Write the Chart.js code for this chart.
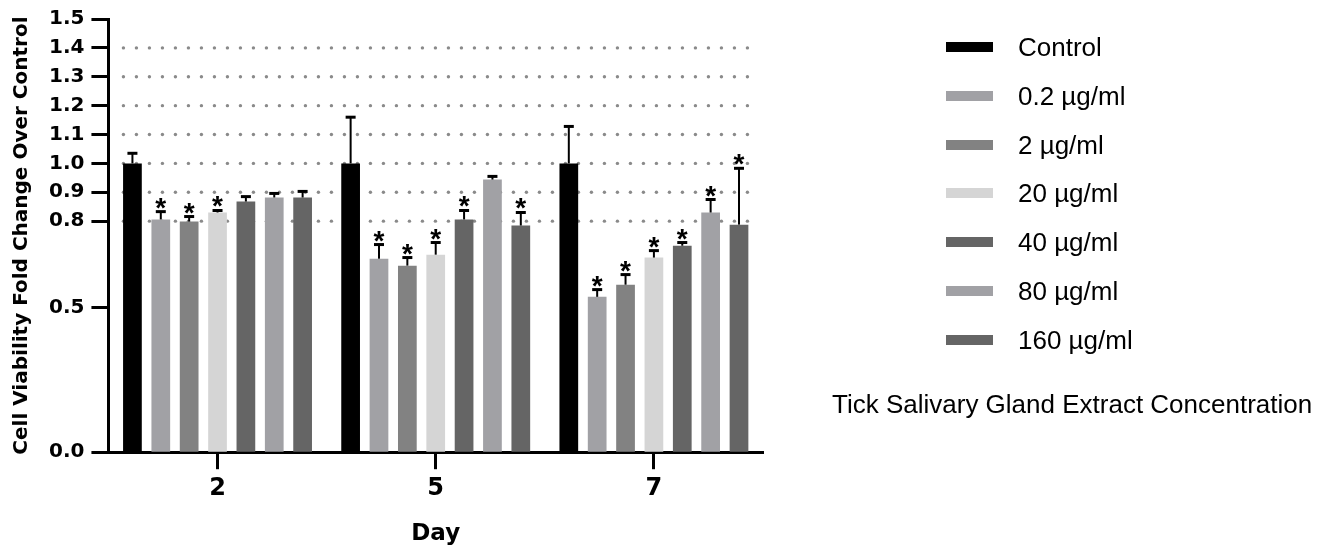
<!DOCTYPE html>
<html>
<head>
<meta charset="utf-8">
<script src="https://cdn.jsdelivr.net/npm/chart.js@4.4.0/dist/chart.umd.min.js"></script>
<style>
  body { margin: 0; background: #fff; }
  #wrap { position: relative; width: 1344px; height: 548px; }
  #legend { position: absolute; left: 0; top: 0; font-family: "Liberation Sans", Arial, sans-serif; font-size: 26px; color: #000; }
  .sw { position: absolute; left: 946px; width: 47px; height: 10px; }
  .lb { position: absolute; left: 1018px; line-height: 30px; white-space: nowrap; }
</style>
</head>
<body>
<div id="wrap">
  <canvas id="chart" width="1344" height="548"></canvas>
  <div id="legend"></div>
</div>
<script>
// days on the x axis
const days = ['2', '5', '7'];
const groups = ['Control', '0.2 µg/ml', '2 µg/ml', '20 µg/ml', '40 µg/ml', '80 µg/ml', '160 µg/ml'];
const colors = ['#000000', '#a1a1a5', '#828282', '#d5d5d5', '#656565', '#a1a1a5', '#656565'];

// mean fold change, one value per day
const control = [1.00, 1.00, 1.00];
const c02 = [0.806, 0.670, 0.538];
const c2 = [0.799, 0.646, 0.580];
const c20 = [0.830, 0.684, 0.674];
const c40 = [0.868, 0.806, 0.715];
const c80 = [0.882, 0.944, 0.830];
const c160 = [0.882, 0.785, 0.788];

// upper error (SD)
const errControl = [0.035, 0.160, 0.128];
const err02 = [0.027, 0.049, 0.025];
const err2 = [0.017, 0.028, 0.035];
const err20 = [0.007, 0.042, 0.024];
const err40 = [0.017, 0.031, 0.011];
const err80 = [0.014, 0.011, 0.045];
const err160 = [0.021, 0.045, 0.195];

// significance stars
const starControl = [0, 0, 0];
const star02 = [1, 1, 1];
const star2 = [1, 1, 1];
const star20 = [1, 1, 1];
const star40 = [0, 1, 1];
const star80 = [0, 0, 1];
const star160 = [0, 1, 1];

const yTicks = [0, 0.5, 0.8, 0.9, 1.0, 1.1, 1.2, 1.3, 1.4, 1.5];
const gridValues = [0.8, 0.9, 1.0, 1.1, 1.2, 1.3, 1.4];

const values = [control, c02, c2, c20, c40, c80, c160];
const errors = [errControl, err02, err2, err20, err40, err80, err160];
const stars = [starControl, star02, star2, star20, star40, star80, star160];

const boldFont = (size, lh) => ({ family: 'DejaVu Sans', weight: 'bold', size: size, lineHeight: lh || 1.2 });

const dottedGrid = {
  id: 'dottedGrid',
  beforeDatasetsDraw(chart) {
    const { ctx, chartArea } = chart;
    const y = chart.scales.y;
    ctx.save();
    ctx.fillStyle = '#8a8a8a';
    gridValues.forEach(v => {
      const py = y.getPixelForValue(v);
      for (let px = chartArea.left + 15; px <= chartArea.right - 14; px += 13) {
        ctx.beginPath();
        ctx.arc(px, py, 1.7, 0, Math.PI * 2);
        ctx.fill();
      }
    });
    ctx.restore();
  }
};

const errorBars = {
  id: 'errorBars',
  afterDatasetsDraw(chart) {
    const ctx = chart.ctx;
    const y = chart.scales.y;
    ctx.save();
    ctx.strokeStyle = '#000';
    ctx.fillStyle = '#000';
    ctx.font = 'bold 28px "Liberation Sans"';
    ctx.textAlign = 'center';
    ctx.textBaseline = 'alphabetic';
    chart.data.datasets.forEach((ds, i) => {
      chart.getDatasetMeta(i).data.forEach((bar, j) => {
        const top = y.getPixelForValue(ds.data[j] + ds.errors[j]);
        ctx.lineWidth = 2;
        ctx.beginPath();
        ctx.moveTo(bar.x, bar.y);
        ctx.lineTo(bar.x, top);
        ctx.stroke();
        ctx.lineWidth = 3;
        ctx.beginPath();
        ctx.moveTo(bar.x - 5, top);
        ctx.lineTo(bar.x + 5, top);
        ctx.stroke();
        if (ds.stars[j]) ctx.fillText('*', bar.x, top + 5);
      });
    });
    ctx.restore();
  }
};

Chart.defaults.color = '#000';

new Chart(document.getElementById('chart'), {
  type: 'bar',
  data: {
    labels: days,
    datasets: groups.map((g, i) => ({
      label: g,
      data: values[i],
      errors: errors[i],
      stars: stars[i],
      backgroundColor: colors[i],
      borderWidth: 0,
      categoryPercentage: 0.91,
      barPercentage: 0.66
    }))
  },
  options: {
    responsive: false,
    animation: false,
    layout: { padding: { top: 18, right: 581, left: 0, bottom: 0 } },
    plugins: { legend: { display: false }, tooltip: { enabled: false } },
    scales: {
      x: {
        offset: true,
        grid: { drawOnChartArea: false, offset: false, tickLength: 17, tickWidth: 3, tickColor: '#000' },
        border: { color: '#000', width: 3 },
        ticks: { font: boldFont(24), padding: 5 },
        title: { display: true, text: 'Day', font: boldFont(23, 1.0), padding: { top: 15, bottom: 2 } }
      },
      y: {
        min: 0,
        max: 1.5,
        afterBuildTicks: axis => { axis.ticks = yTicks.map(v => ({ value: v })); },
        grid: { drawOnChartArea: false, tickLength: 17, tickWidth: 3, tickColor: '#000' },
        border: { color: '#000', width: 3 },
        ticks: { font: boldFont(20), padding: 7, autoSkip: false, callback: v => Number(v).toFixed(1) },
        title: { display: true, text: 'Cell Viability Fold Change Over Control', font: boldFont(20), padding: { top: 10, bottom: 8 } }
      }
    }
  },
  plugins: [dottedGrid, errorBars]
});

// legend on the right
const legend = document.getElementById('legend');
groups.forEach((g, i) => {
  const cy = 47 + i * 48.8;
  const sw = document.createElement('div');
  sw.className = 'sw';
  sw.style.top = (cy - 5) + 'px';
  sw.style.background = colors[i];
  legend.appendChild(sw);
  const lb = document.createElement('div');
  lb.className = 'lb';
  lb.style.top = (cy - 15) + 'px';
  lb.textContent = g;
  legend.appendChild(lb);
});
const lt = document.createElement('div');
lt.className = 'lb';
lt.style.left = '832px';
lt.style.top = '389px';
lt.textContent = 'Tick Salivary Gland Extract Concentration';
legend.appendChild(lt);
</script>
</body>
</html>
